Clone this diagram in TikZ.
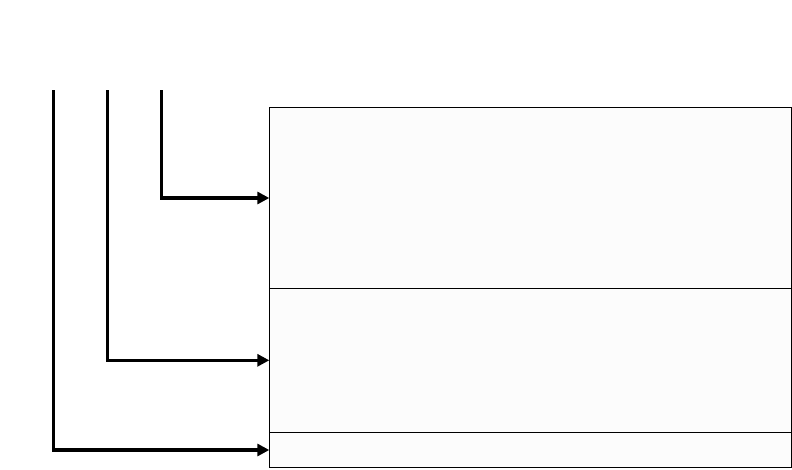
\documentclass[tikz,border=0pt]{standalone}
\usetikzlibrary{arrows.meta}
\begin{document}
\begin{tikzpicture}[x=1pt,y=-1pt,
  part/.style={draw=black, line width=1.3pt, fill=gray!2, minimum width=522pt, inner sep=0pt, outer sep=0pt, anchor=north west},
  conn/.style={line width=3.2pt, -{Triangle[length=12pt,width=12pt]}}]
\useasboundingbox (0,0) rectangle (792,469);
\node[part, minimum height=180.6pt] (top) at (269.3,107.7) {};
\node[part, minimum height=144pt] (mid) at (269.3,288.3) {};
\node[part, minimum height=35.4pt] (bot) at (269.3,432.3) {};
\coordinate (s1) at (161.5,90);
\coordinate (s2) at (107.5,90);
\coordinate (s3) at (53.8,90);
\draw[conn] (s1) |- (top.west);
\draw[conn] (s2) |- (mid.west);
\draw[conn] (s3) |- (bot.west);
\end{tikzpicture}
\end{document}
